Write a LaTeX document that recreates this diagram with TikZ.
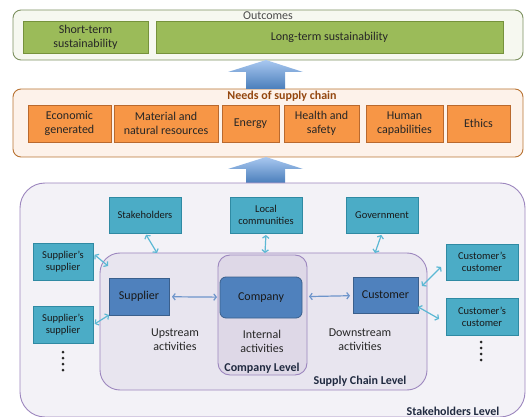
\documentclass[tikz,border=0pt]{standalone}
\usepackage{fontspec}
\setmainfont{Carlito}
\usetikzlibrary{arrows.meta}

\definecolor{outline}{HTML}{7D9160}
\definecolor{outfill}{HTML}{F6F8F0}
\definecolor{grnfill}{HTML}{9BBB59}
\definecolor{grnline}{HTML}{76923C}
\definecolor{needline}{HTML}{B87333}
\definecolor{needfill}{HTML}{FDF2EA}
\definecolor{needtext}{HTML}{94470F}
\definecolor{orgfill}{HTML}{F79646}
\definecolor{orgline}{HTML}{B9692E}
\definecolor{purpline}{HTML}{9C86BE}
\definecolor{stkfill}{HTML}{F3F2F7}
\definecolor{scfill}{HTML}{E8E5EF}
\definecolor{cpfill}{HTML}{DED8E7}
\definecolor{tealfill}{HTML}{4BACC6}
\definecolor{tealline}{HTML}{2F8AA3}
\definecolor{tealarr}{HTML}{5BB8D4}
\definecolor{bluefill}{HTML}{4F81BD}
\definecolor{blueline}{HTML}{3A5F8C}
\definecolor{bluearr}{HTML}{6E95CB}
\definecolor{arrtop}{HTML}{A9C8F0}
\definecolor{arrbot}{HTML}{4A7EBB}
\definecolor{lvltext}{HTML}{202A40}

\begin{document}
\begin{tikzpicture}[x=1pt, y=-1pt,
    every node/.style={font=\fontsize{12}{14}\selectfont, text=black!85,
                       inner sep=1pt, outer sep=0pt, align=center},
    frame/.style={draw, line width=0.9pt},
    grnbox/.style={draw=grnline, fill=grnfill, line width=0.8pt,
                   minimum height=32pt},
    orgbox/.style={draw=orgline, fill=orgfill, line width=0.8pt,
                   minimum height=37pt},
    tealbox/.style={draw=tealline, fill=tealfill, line width=0.8pt,
                    minimum width=72pt, minimum height=36pt, text=black!90,
                    font=\fontsize{10.5}{12}\selectfont},
    bluebox/.style={draw=blueline, fill=bluefill, line width=0.8pt,
                    text=black!90},
    level/.style={font=\bfseries\fontsize{12}{14}\selectfont, text=lvltext},
    link/.style={draw=tealarr, line width=1.2pt,
                 {Straight Barb[length=2.5pt,width=6.5pt]}-{Straight Barb[length=2.5pt,width=6.5pt]}},
    flow/.style={draw=bluearr, line width=1.2pt,
                 {Straight Barb[length=2.5pt,width=6.5pt]}-{Straight Barb[length=2.5pt,width=6.5pt]}}]

    \useasboundingbox (0,0) rectangle (528,417);

    % outcomes
    \node[frame, draw=outline, fill=outfill, rounded corners=8pt,
          minimum width=510pt, minimum height=50pt] (outc) at (268,35) {};
    \node[anchor=base, text=black!70] (outlbl) at (268,20) {Outcomes};
    \node[grnbox, minimum width=125pt] (short) at (85.5,37) {Short-term\\sustainability};
    \node[grnbox, minimum width=347pt] (long) at (329.5,37) {Long-term sustainability};

    % needs
    \node[frame, draw=needline, fill=needfill, rounded corners=8pt,
          minimum width=510pt, minimum height=68pt] (needs) at (268,123) {};
    \node[anchor=base, level, text=needtext] (needlbl) at (282,100) {Needs of supply chain};
    \foreach \n/\x/\w/\t in {eco/69.5/83/Economic\\generated,
            mat/166/104/Material and\\natural resources,
            ene/250.5/57/Energy,
            hea/321.5/75/Health and\\safety,
            hum/404.5/77/Human\\capabilities,
            eth/478.5/63/Ethics} {
        \node[orgbox, minimum width=\w pt] (\n) at (\x,123.5) {\t};
    }

    % block arrows
    \foreach \t/\b in {60/89, 157/183} {
        \shade[top color=arrtop, bottom color=arrbot]
            (266,\t) -- (303,\t+12) -- (285,\t+12) -- (285,\b)
            -- (246,\b) -- (246,\t+12) -- (228,\t+12) -- cycle;
    }

    % levels
    \node[frame, draw=purpline, fill=stkfill, rounded corners=25pt, anchor=north west,
          minimum width=505pt, minimum height=234pt] (stklvl) at (20,183) {};
    \node[frame, draw=purpline, fill=scfill, rounded corners=20pt,
          minimum width=327pt, minimum height=137pt] (sclvl) at (263.5,321.5) {};
    \node[frame, draw=purpline, fill=cpfill, rounded corners=12pt,
          minimum width=89pt, minimum height=120pt] (cplvl) at (262.5,315) {};
    \node[level] (stklbl) at (453,411) {Stakeholders Level};
    \node[level] (sclbl) at (360,381) {Supply Chain Level};
    \node[level] (cplbl) at (262,368) {Company Level};

    % supply chain
    \node[bluebox, minimum width=60pt, minimum height=37pt] (sup) at (139,296.5) {Supplier};
    \node[bluebox, rounded corners=6pt, minimum width=82pt, minimum height=41pt] (comp) at (261,297.5) {Company};
    \node[bluebox, minimum width=65pt, minimum height=36pt] (cust) at (385.5,295) {Customer};
    \node (upact) at (175,340) {Upstream\\activities};
    \node (inact) at (262,341) {Internal\\activities};
    \node (downact) at (360,340) {Downstream\\activities};
    \draw[flow, shorten <=3pt, shorten >=3pt] (sup) -- (comp);
    \draw[flow, shorten <=7pt, shorten >=3pt] (comp) -- (cust);

    % stakeholders
    \node[tealbox] (stk) at (145,215) {Stakeholders};
    \node[tealbox] (loc) at (266,215) {Local\\communities};
    \node[tealbox] (gov) at (382,215) {Government};
    \node[tealbox, minimum width=60pt, minimum height=37pt] (ss1) at (63,261.5) {Supplier’s\\supplier};
    \node[tealbox, minimum width=60pt, minimum height=37pt] (ss2) at (63,325) {Supplier’s\\supplier};
    \node[tealbox] (cc1) at (482,262) {Customer’s\\customer};
    \node[tealbox, minimum height=37pt] (cc2) at (482,316.5) {Customer’s\\customer};

    \coordinate (scA) at (157,253);
    \coordinate (scB) at (265,253);
    \coordinate (scC) at (375,253);
    \coordinate (scD) at (108,266);
    \coordinate (scE) at (422,286);

    \foreach \i/\j in {stk.south/scA, loc.south/scB, gov.south/scC,
            ss1.15/scD, ss2.east/sup.south west} {
        \draw[link, shorten <=2pt] (\i) -- (\j);
    }
    \draw[link, shorten <=7pt] (cc1.west) -- (scE);
    \draw[link, shorten >=8pt] (cust.-20) -- (cc2.190);

    % dots
    \foreach \y in {352,358,364,370} \fill[black!85] (63,\y) circle (1.5pt);
    \foreach \y in {342,348,354,360} \fill[black!85] (481,\y) circle (1.5pt);
\end{tikzpicture}
\end{document}
